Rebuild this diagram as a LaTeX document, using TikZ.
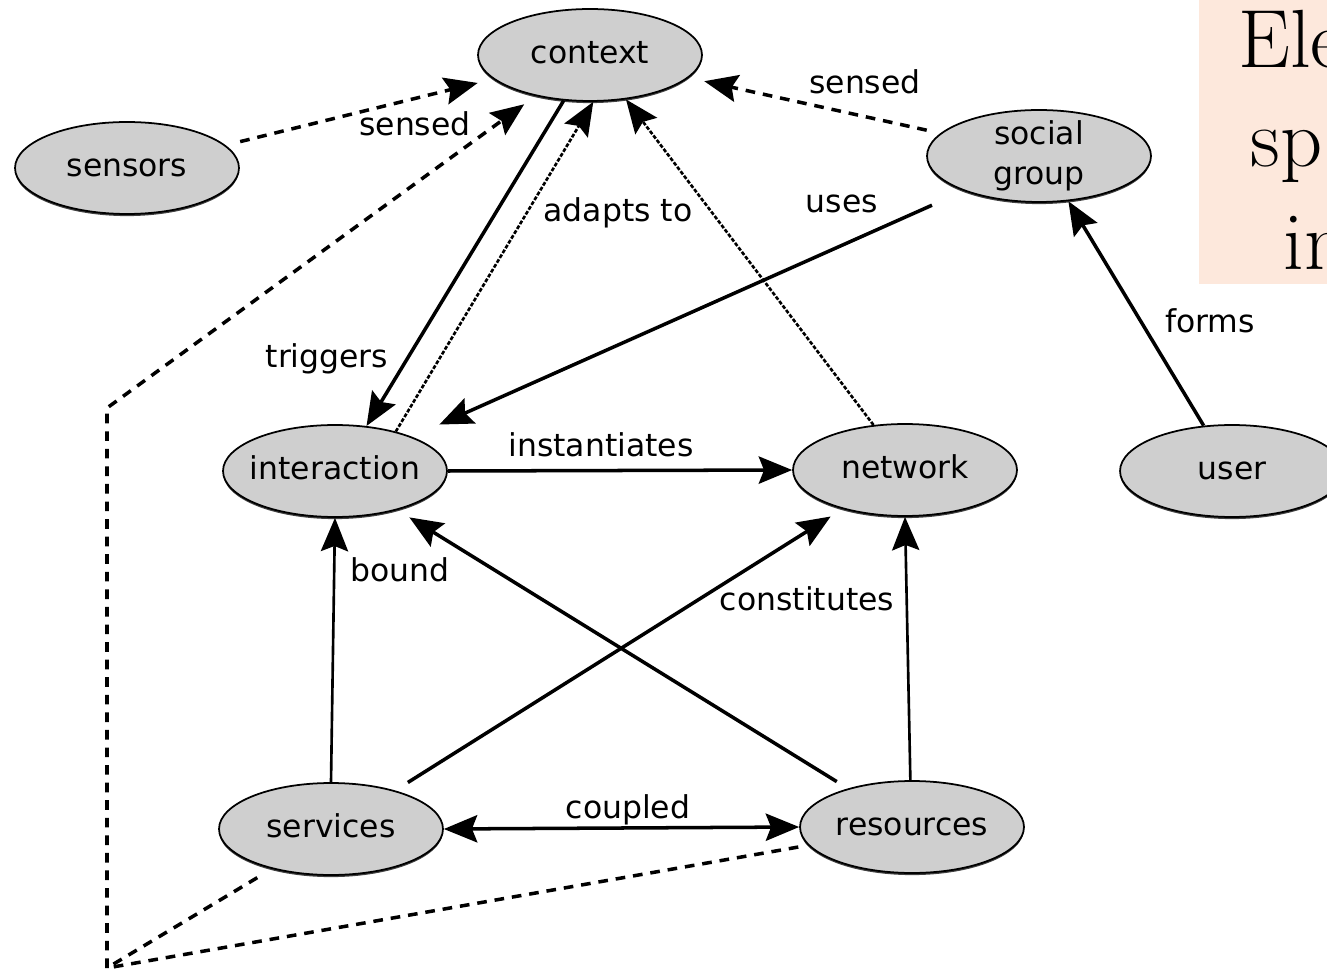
\documentclass[tikz,border=0pt]{standalone}
\usepackage{fontspec}
\newfontfamily\labelfont{DejaVu Sans}
\usetikzlibrary{arrows.meta,shapes.geometric,shadows}

\definecolor{conceptgray}{RGB}{207,207,207}
\definecolor{peach}{RGB}{253,232,220}

\begin{document}
\begin{tikzpicture}[x=0.02cm,y=-0.02cm,
  every node/.style={font=\labelfont\fontsize{17.9pt}{22.5pt}\selectfont},
  concept/.style={ellipse, draw=black, line width=1pt, fill=conceptgray,
    minimum width=4.48cm, minimum height=1.84cm, inner xsep=-10pt, inner ysep=-6pt,
    align=center,
    drop shadow={shadow xshift=0pt, shadow yshift=-1.2pt, fill=black, opacity=0.75}},
  oneline/.style={text height=0.94em},
  rel/.style={line width=2pt},
  thinrel/.style={line width=1.5pt},
  sensedline/.style={line width=2pt, dash pattern=on 5.5pt off 4.5pt},
  fineline/.style={line width=1.5pt, dash pattern=on 2.2pt off 1pt},
  tip/.style={-{Stealth[length=19pt,width=15.5pt,inset=3pt]}},
  bothtips/.style={{Stealth[length=19pt,width=15.5pt,inset=3pt]}-{Stealth[length=19pt,width=15.5pt,inset=3pt]}},
  edgelabel/.style={anchor=base},
  bigserif/.style={anchor=base west, inner sep=0pt, font=\rmfamily\fontsize{47pt}{56pt}\selectfont}
]
\useasboundingbox (0,0) rectangle (1327,972);
\clip (0,0) rectangle (1327,972);

% side panel with large text
\fill[peach] (1199,0) rectangle (1340,284);
\node[bigserif] (panelA) at (1238,68) {Ele};
\node[bigserif] (panelB) at (1250,167) {sp};
\node[bigserif] (panelC) at (1283,270) {in};

% concepts
\node[concept, oneline] (context)     at (590,55)   {context};
\node[concept, oneline] (sensors)     at (127,168)  {sensors};
\node[concept]          (social)      at (1039,156) {social\\group};
\node[concept, oneline] (interaction) at (335,471)  {interaction};
\node[concept, oneline] (network)     at (905,470)  {network};
\node[concept, oneline] (user)        at (1232,471) {user};
\node[concept, oneline] (services)    at (331,829)  {services};
\node[concept, oneline] (resources)   at (912,827)  {resources};

% sensing relations
\draw[sensedline, tip, shorten <=0.3cm, shorten >=0.32cm] (sensors.13) -- (context.194);
\draw[sensedline, tip, shorten <=0.28cm, shorten >=0.32cm] (social.167) -- (context.347.6);

\coordinate (corner) at (107,968);
\coordinate (bend)   at (107,408);
\draw[sensedline, shorten <=0.34cm] (services.214) -- (corner);
\draw[sensedline, shorten <=0.2cm] (resources.190.7) -- (corner);
\draw[sensedline, tip, shorten >=0.28cm] (corner) -- (bend) -- (context.217.6);

% context relations
\draw[rel, tip] (context.240) -- (interaction.55);
\draw[fineline, tip] (interaction.33) -- (context.274);
\draw[fineline, tip] (network.125) -- (context.309);

% social relations
\draw[rel, tip, shorten <=0.7cm, shorten >=0.6cm] (social.205) -- (interaction.24.4);
\draw[rel, tip] (user.122) -- (social.303);

% interaction / network / services / resources
\draw[rel, tip] (interaction.0) -- (network.180);
\draw[thinrel, tip] (services.90) -- (interaction.270);
\draw[rel, tip, shorten <=0.3cm, shorten >=0.28cm] (services.31) -- (network.212.8);
\draw[rel, tip, shorten <=0.26cm, shorten >=0.28cm] (resources.149.7) -- (interaction.328.5);
\draw[thinrel, tip] (resources.92) -- (network.270);
\draw[rel, bothtips] (services.0) -- (resources.180);

% labels
\node[edgelabel] (lsensedA)   at (415,136)  {sensed};
\node[edgelabel] (lsensedB)   at (865,94)   {sensed};
\node[edgelabel] (ladapts)    at (618,222)  {adapts to};
\node[edgelabel] (luses)      at (842,213)  {uses};
\node[edgelabel] (ltriggers)  at (327,368)  {triggers};
\node[edgelabel] (lforms)     at (1210,333) {forms};
\node[edgelabel] (linst)      at (601,457)  {instantiates};
\node[edgelabel] (lbound)     at (400,581)  {bound};
\node[edgelabel] (lconst)     at (807,610)  {constitutes};
\node[edgelabel] (lcoupled)   at (628,818)  {coupled};
\end{tikzpicture}
\end{document}
